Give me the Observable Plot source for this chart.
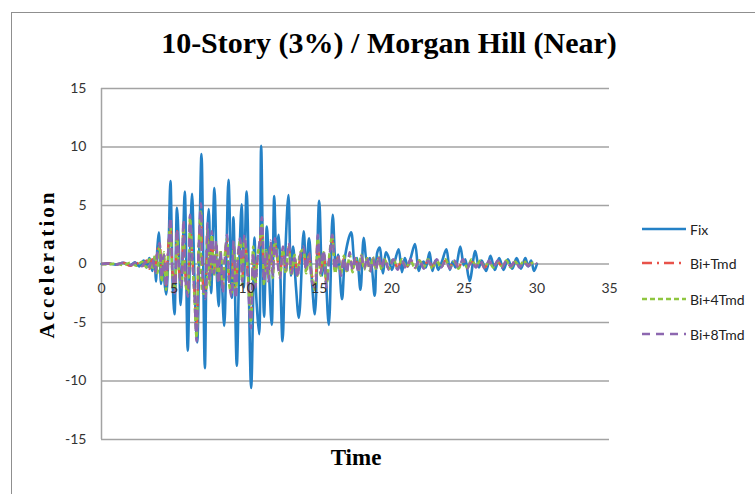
<!DOCTYPE html>
<html><head><meta charset="utf-8">
<script src="https://cdn.jsdelivr.net/npm/d3@7"></script>
<script src="https://cdn.jsdelivr.net/npm/@observablehq/plot@0.6"></script>
<style>
body{margin:0;background:#fff;width:755px;height:494px;overflow:hidden;position:relative;font-family:Lato,"Noto Sans",sans-serif}
#frame{position:absolute;left:11px;top:12px;width:800px;height:500px;border-left:1.5px solid #8f8f8f;border-top:1.5px solid #8f8f8f}
#chart{position:absolute;left:0;top:0}
#title{position:absolute;left:0;width:778px;top:28px;line-height:30px;text-align:center;font:bold 30px/30px "Liberation Serif",serif;color:#000;white-space:nowrap}
#ylab{position:absolute;left:47px;top:264px;transform:translate(-50%,-50%) rotate(-90deg);font:bold 21px "Liberation Serif",serif;letter-spacing:3px;white-space:nowrap;color:#000}
#xlab{position:absolute;left:356px;top:458px;transform:translate(-50%,-50%);font:bold 23px "Liberation Serif",serif;white-space:nowrap;color:#000}
.leg{position:absolute;left:641px;height:20px;display:flex;align-items:center;font-size:14px;color:#222;transform:translateY(-50%)}
.leg svg{margin-right:4px}
</style></head>
<body>
<div id="frame"></div>
<div id="chart"></div>
<div id="title"></div>
<div id="ylab"></div>
<div id="xlab"></div>
<div id="legend"></div>
<script>
const titleText = "10-Story (3%) / Morgan Hill (Near)";
const xLabel = "Time";
const yLabel = "Acceleration";
const xTicks = [0, 5, 10, 15, 20, 25, 30, 35];
const yTicks = [-15, -10, -5, 0, 5, 10, 15];

const seriesNames = ["Fix", "Bi+Tmd", "Bi+4Tmd", "Bi+8Tmd"];
const seriesColors = ["#2481c6", "#e8524a", "#8fc640", "#8d67b0"];
const seriesDash = ["none", "10,5,2,5", "5,3", "8,6"];
const seriesWidth = [2.6, 2.5, 2.5, 2.5];

const fixTime = [
  0, 0.5, 1.0, 1.5, 2.0, 2.3, 2.6, 2.9, 3.1, 3.3,
  3.5, 3.65, 3.75, 3.85, 3.95, 4.1, 4.2, 4.3, 4.45, 4.6,
  4.75, 4.9, 5.03, 5.2, 5.35, 5.45, 5.6, 5.74, 5.94, 6.1,
  6.24, 6.4, 6.59, 6.75, 6.89, 7.12, 7.25, 7.39, 7.55, 7.78,
  7.95, 8.08, 8.2, 8.45, 8.6, 8.75, 8.98, 9.09, 9.32, 9.5,
  9.66, 9.8, 10.0, 10.31, 10.54, 10.65, 10.86, 11.0, 11.2, 11.39,
  11.55, 11.73, 11.9, 12.05, 12.2, 12.47, 12.65, 12.88, 13.05, 13.2,
  13.4, 13.6, 13.93, 14.1, 14.3, 14.5, 14.7, 15.0, 15.2, 15.35,
  15.66, 15.93, 16.15, 16.3, 16.57, 16.8, 17.2, 17.45, 17.6, 17.84,
  18.07, 18.3, 18.5, 18.82, 19.0, 19.17, 19.3, 19.4, 19.6, 19.8,
  20.0, 20.2, 20.47, 20.7, 20.9, 21.1, 21.3, 21.6, 21.85, 22.0,
  22.2, 22.35, 22.6, 22.8, 23.0, 23.2, 23.45, 23.76, 24.0, 24.2,
  24.4, 24.72, 24.95, 25.07, 25.36, 25.75, 26.0, 26.2, 26.5, 26.8,
  27.1, 27.4, 27.7, 28.0, 28.3, 28.6, 28.9, 29.2, 29.4, 29.6,
  29.8, 30.0
];
const fixValue = [
  0, 0.05, -0.05, 0.1, -0.1, 0.15, -0.2, 0.3, -0.3, 0.5,
  -0.6, 0.6, -1.5, 1.4, 2.7, -1.7, 0.5, -1.0, -2.6, 0.5,
  7.1, -1.5, -4.3, 4.8, 0.5, -3.5, 1.0, 6.2, -7.4, 1.0,
  6.0, -1.0, -6.7, 2.0, 9.4, -8.9, 1.0, 4.7, -2.5, 6.5,
  -1.0, -3.6, 1.0, -5.3, 0.5, 7.2, -2.9, 4.0, -8.7, 0.5,
  5.1, -2.0, 6.2, -10.6, 2.25, -2.5, -6.0, 10.1, -4.5, 3.2,
  -1.0, -5.2, 5.8, 1.0, 2.5, -6.6, 0.5, 5.9, -1.0, 1.5,
  -2.0, -4.6, 2.8, -0.5, 2.2, -1.5, -4.3, 5.4, -1.0, 0.8,
  -5.2, 4.2, -0.5, 0.8, -3.0, 0.8, 2.7, 0, 0.5, -2.2,
  2.25, 0.2, 0.5, -2.7, 1.0, 1.4, 0.0, -0.8, 1.0, 0.5,
  -0.5, 0.2, 1.25, -0.7, 0.5, -0.2, 0.5, 1.7, -0.6, -0.1,
  0.2, -0.3, 1.0, -0.6, 0.3, -0.5, 0.2, 1.25, -0.5, 0.2,
  -0.3, 1.5, -0.1, 0.4, -1.45, 1.1, -0.3, 0.3, -0.6, 0.7,
  -0.5, 0.5, -0.5, 0.4, -0.4, 0.5, -0.4, 0.5, -0.2, 0.3,
  -0.6, 0
];

const tmdTime = [
  0, 0.5, 1.0, 1.5, 2.0, 2.4, 2.8, 3.1, 3.3, 3.5,
  3.7, 3.85, 4.0, 4.15, 4.3, 4.45, 4.6, 4.75, 4.9, 5.05,
  5.2, 5.35, 5.5, 5.65, 5.8, 5.95, 6.1, 6.25, 6.4, 6.55,
  6.7, 6.85, 7.0, 7.15, 7.3, 7.45, 7.6, 7.75, 7.9, 8.05,
  8.2, 8.35, 8.5, 8.65, 8.8, 8.95, 9.1, 9.25, 9.4, 9.55,
  9.7, 9.85, 10.0, 10.15, 10.3, 10.45, 10.6, 10.75, 10.9, 11.05,
  11.2, 11.35, 11.5, 11.65, 11.8, 11.95, 12.1, 12.3, 12.5, 12.7,
  12.9, 13.1, 13.3, 13.5, 13.7, 13.9, 14.1, 14.3, 14.5, 14.7,
  14.9, 15.1, 15.3, 15.5, 15.7, 15.9, 16.1, 16.3, 16.5, 16.7,
  16.9, 17.1, 17.3, 17.5, 17.7, 17.9, 18.1, 18.3, 18.5, 18.7,
  18.9, 19.1, 19.3, 19.5, 19.8, 20.1, 20.4, 20.7, 21.0, 21.3,
  21.6, 21.9, 22.2, 22.5, 22.8, 23.1, 23.4, 23.7, 24.0, 24.3,
  24.6, 24.9, 25.2, 25.5, 25.8, 26.1, 26.4, 26.7, 27.0, 27.3,
  27.6, 27.9, 28.2, 28.5, 28.8, 29.1, 29.4, 29.7, 30.0
];
const biTmdValue = [
  0, 0.05, -0.05, 0.1, -0.15, 0.1, -0.2, 0.3, -0.4, 0.4,
  -0.6, 1.2, 1.5, -1.0, 0.6, -1.8, 1.5, 3.2, -0.8, -2.0,
  2.8, -0.6, -1.5, 3.2, -1.2, -2.2, 3.6, 0.6, -2.2, -5.5,
  1.2, 4.2, -1.8, -2.6, 2.8, -1.2, 2.2, -0.6, 1.6, -1.4,
  0.8, -2.0, 0.6, 2.0, -1.2, -2.4, 1.6, -2.4, 0.6, 1.8,
  -1.2, 2.0, 0.6, -2.2, -4.5, 0.8, -1.5, 0.6, 1.5, 3.2,
  -1.2, 0.8, -1.2, 1.6, -0.8, 1.8, 0.6, -0.8, 1.2, -0.6,
  1.4, -0.6, 0.6, -0.8, 0.6, 1.2, -0.6, 0.8, -1.0, -1.6,
  2.0, -0.6, 1.0, -1.5, 0.6, 2.0, -0.6, 0.6, -0.6, 0.5,
  -0.6, 0.7, -0.4, 0.5, -0.5, 0.6, -0.4, 0.5, -0.5, 0.4,
  -0.4, 0.5, -0.3, 0.4, -0.4, 0.3, -0.3, 0.3, -0.3, 0.3,
  -0.3, 0.3, -0.3, 0.3, -0.2, 0.3, -0.3, 0.3, -0.2, 0.2,
  -0.3, 0.3, -0.3, 0.2, -0.2, 0.2, -0.3, 0.2, -0.2, 0.2,
  -0.2, 0.2, -0.2, 0.2, -0.2, 0.2, -0.1, 0.1, 0
];
const bi4TmdValue = [
  0, -0.05, 0.05, -0.1, 0.1, -0.15, 0.2, -0.3, 0.4, -0.5,
  0.8, -0.8, 1.5, -1.5, 1.0, -2.2, 1.0, 3.5, -1.2, -2.2,
  2.6, -0.8, -1.8, 3.5, -1.8, -2.5, 4.0, 0.8, -2.8, -6.3,
  1.8, 4.6, -2.5, -2.5, 3.0, -1.8, 2.5, -1.0, 1.8, -1.5,
  1.2, -2.2, 0.8, 2.2, -1.8, -2.5, 1.8, -2.6, 0.8, 2.0,
  -1.8, 2.2, 0.8, -2.5, -5.0, 1.5, -1.8, 0.8, 1.8, 3.5,
  -1.8, 1.2, -1.2, 1.8, -1.2, 2.0, 0.8, -1.0, 1.2, -0.8,
  1.5, -1.0, 0.8, -1.0, 1.0, 1.2, -0.8, 0.8, -1.2, -2.2,
  2.2, -1.0, 1.0, -1.8, 0.8, 2.5, -0.8, 0.6, -0.8, 0.7,
  -0.6, 0.8, -0.7, 0.5, -0.6, 0.8, -0.5, 0.5, -0.6, 0.6,
  -0.4, 0.6, -0.5, 0.4, -0.4, 0.5, -0.4, 0.4, -0.3, 0.3,
  -0.4, 0.3, -0.3, 0.4, -0.4, 0.3, -0.3, 0.4, -0.3, 0.2,
  -0.4, 0.3, -0.3, 0.4, -0.2, 0.3, -0.3, 0.2, -0.3, 0.2,
  -0.2, 0.3, -0.3, 0.2, -0.2, 0.3, -0.2, 0.1, 0
];
const bi8TmdValue = [
  0, 0.05, -0.05, 0.1, -0.1, 0.15, -0.2, 0.3, -0.3, 0.5,
  -0.8, 1.0, 1.8, -1.2, 0.8, -2.0, 1.2, 4.0, -1.0, -2.5,
  3.0, -0.5, -2.0, 3.8, -1.5, -2.8, 4.2, 0.5, -2.5, -6.6,
  1.5, 5.2, -2.0, -3.0, 3.5, -1.5, 2.8, -0.8, 2.0, -1.7,
  1.0, -2.5, 0.5, 2.5, -1.5, -2.8, 2.0, -3.0, 0.5, 2.2,
  -1.5, 2.5, 0.5, -3.0, -5.5, 1.0, -2.0, 0.5, 2.0, 4.0,
  -1.5, 1.0, -1.5, 2.0, -1.0, 2.2, 0.5, -1.2, 1.5, -0.5,
  1.8, -0.8, 0.5, -1.2, 0.8, 1.5, -0.5, 1.0, -1.5, -2.0,
  2.5, -0.8, 1.2, -2.0, 0.5, 2.5, -0.5, 0.8, -1.0, 0.5,
  -0.8, 1.0, -0.5, 0.6, -0.8, 0.7, -0.4, 0.6, -0.7, 0.5,
  -0.5, 0.7, -0.4, 0.5, -0.5, 0.4, -0.5, 0.3, -0.4, 0.4,
  -0.3, 0.4, -0.4, 0.3, -0.3, 0.4, -0.3, 0.3, -0.4, 0.3,
  -0.3, 0.4, -0.4, 0.3, -0.3, 0.3, -0.4, 0.3, -0.3, 0.3,
  -0.3, 0.3, -0.2, 0.3, -0.3, 0.2, -0.2, 0.2, 0
];

function toRows(times, values, name) {
  const n = Math.min(times.length, values.length);
  const out = [];
  for (let i = 0; i < n; i++) out.push({t: times[i], v: values[i], series: name});
  return out;
}
const seriesData = [
  toRows(fixTime, fixValue, seriesNames[0]),
  toRows(tmdTime, biTmdValue, seriesNames[1]),
  toRows(tmdTime, bi4TmdValue, seriesNames[2]),
  toRows(tmdTime, bi8TmdValue, seriesNames[3])
];

const gridColor = "#a3a3a3";
const lineMarks = seriesData.map((rows, i) => Plot.line(rows, {
  x: "t", y: "v",
  stroke: seriesColors[i],
  strokeWidth: seriesWidth[i],
  strokeDasharray: seriesDash[i] === "none" ? undefined : seriesDash[i],
  curve: "catmull-rom",
  strokeLinejoin: "round",
  strokeLinecap: i === 0 ? "round" : "butt"
}));

const chart = Plot.plot({
  width: 755,
  height: 494,
  marginLeft: 101,
  marginRight: 146,
  marginTop: 88,
  marginBottom: 55,
  style: {fontFamily: "Lato, 'Noto Sans', sans-serif", fontSize: "14px", color: "#333", background: "transparent"},
  x: {domain: [0, 35], axis: null},
  y: {domain: [-15, 15], axis: null},
  marks: [
    Plot.ruleY(yTicks, {stroke: gridColor, strokeWidth: 1.5}),
    Plot.ruleX([0], {stroke: gridColor, strokeWidth: 1.5}),
    Plot.axisY({ticks: yTicks, tickSize: 0, tickPadding: 15, label: null, fontSize: 14, fill: "#333", tickFormat: d => String(d)}),
    ...lineMarks,
    Plot.text(xTicks, {x: d => d, y: 0, dy: 25, text: d => String(d), fontSize: 14, fill: "#333"})
  ]
});
document.getElementById("chart").appendChild(chart);

document.getElementById("title").textContent = titleText;
document.getElementById("ylab").textContent = yLabel;
document.getElementById("xlab").textContent = xLabel;

const legendY = [229, 263, 299, 334];
const legend = document.getElementById("legend");
seriesNames.forEach((name, i) => {
  const row = document.createElement("div");
  row.className = "leg";
  row.style.top = legendY[i] + "px";
  const dash = seriesDash[i] === "none" ? "" : ` stroke-dasharray="${seriesDash[i]}"`;
  row.innerHTML = `<svg width="45" height="6"><line x1="1" y1="3" x2="45" y2="3" stroke="${seriesColors[i]}" stroke-width="${seriesWidth[i]}"${dash}/></svg><span>${name}</span>`;
  legend.appendChild(row);
});
</script>
</body></html>
